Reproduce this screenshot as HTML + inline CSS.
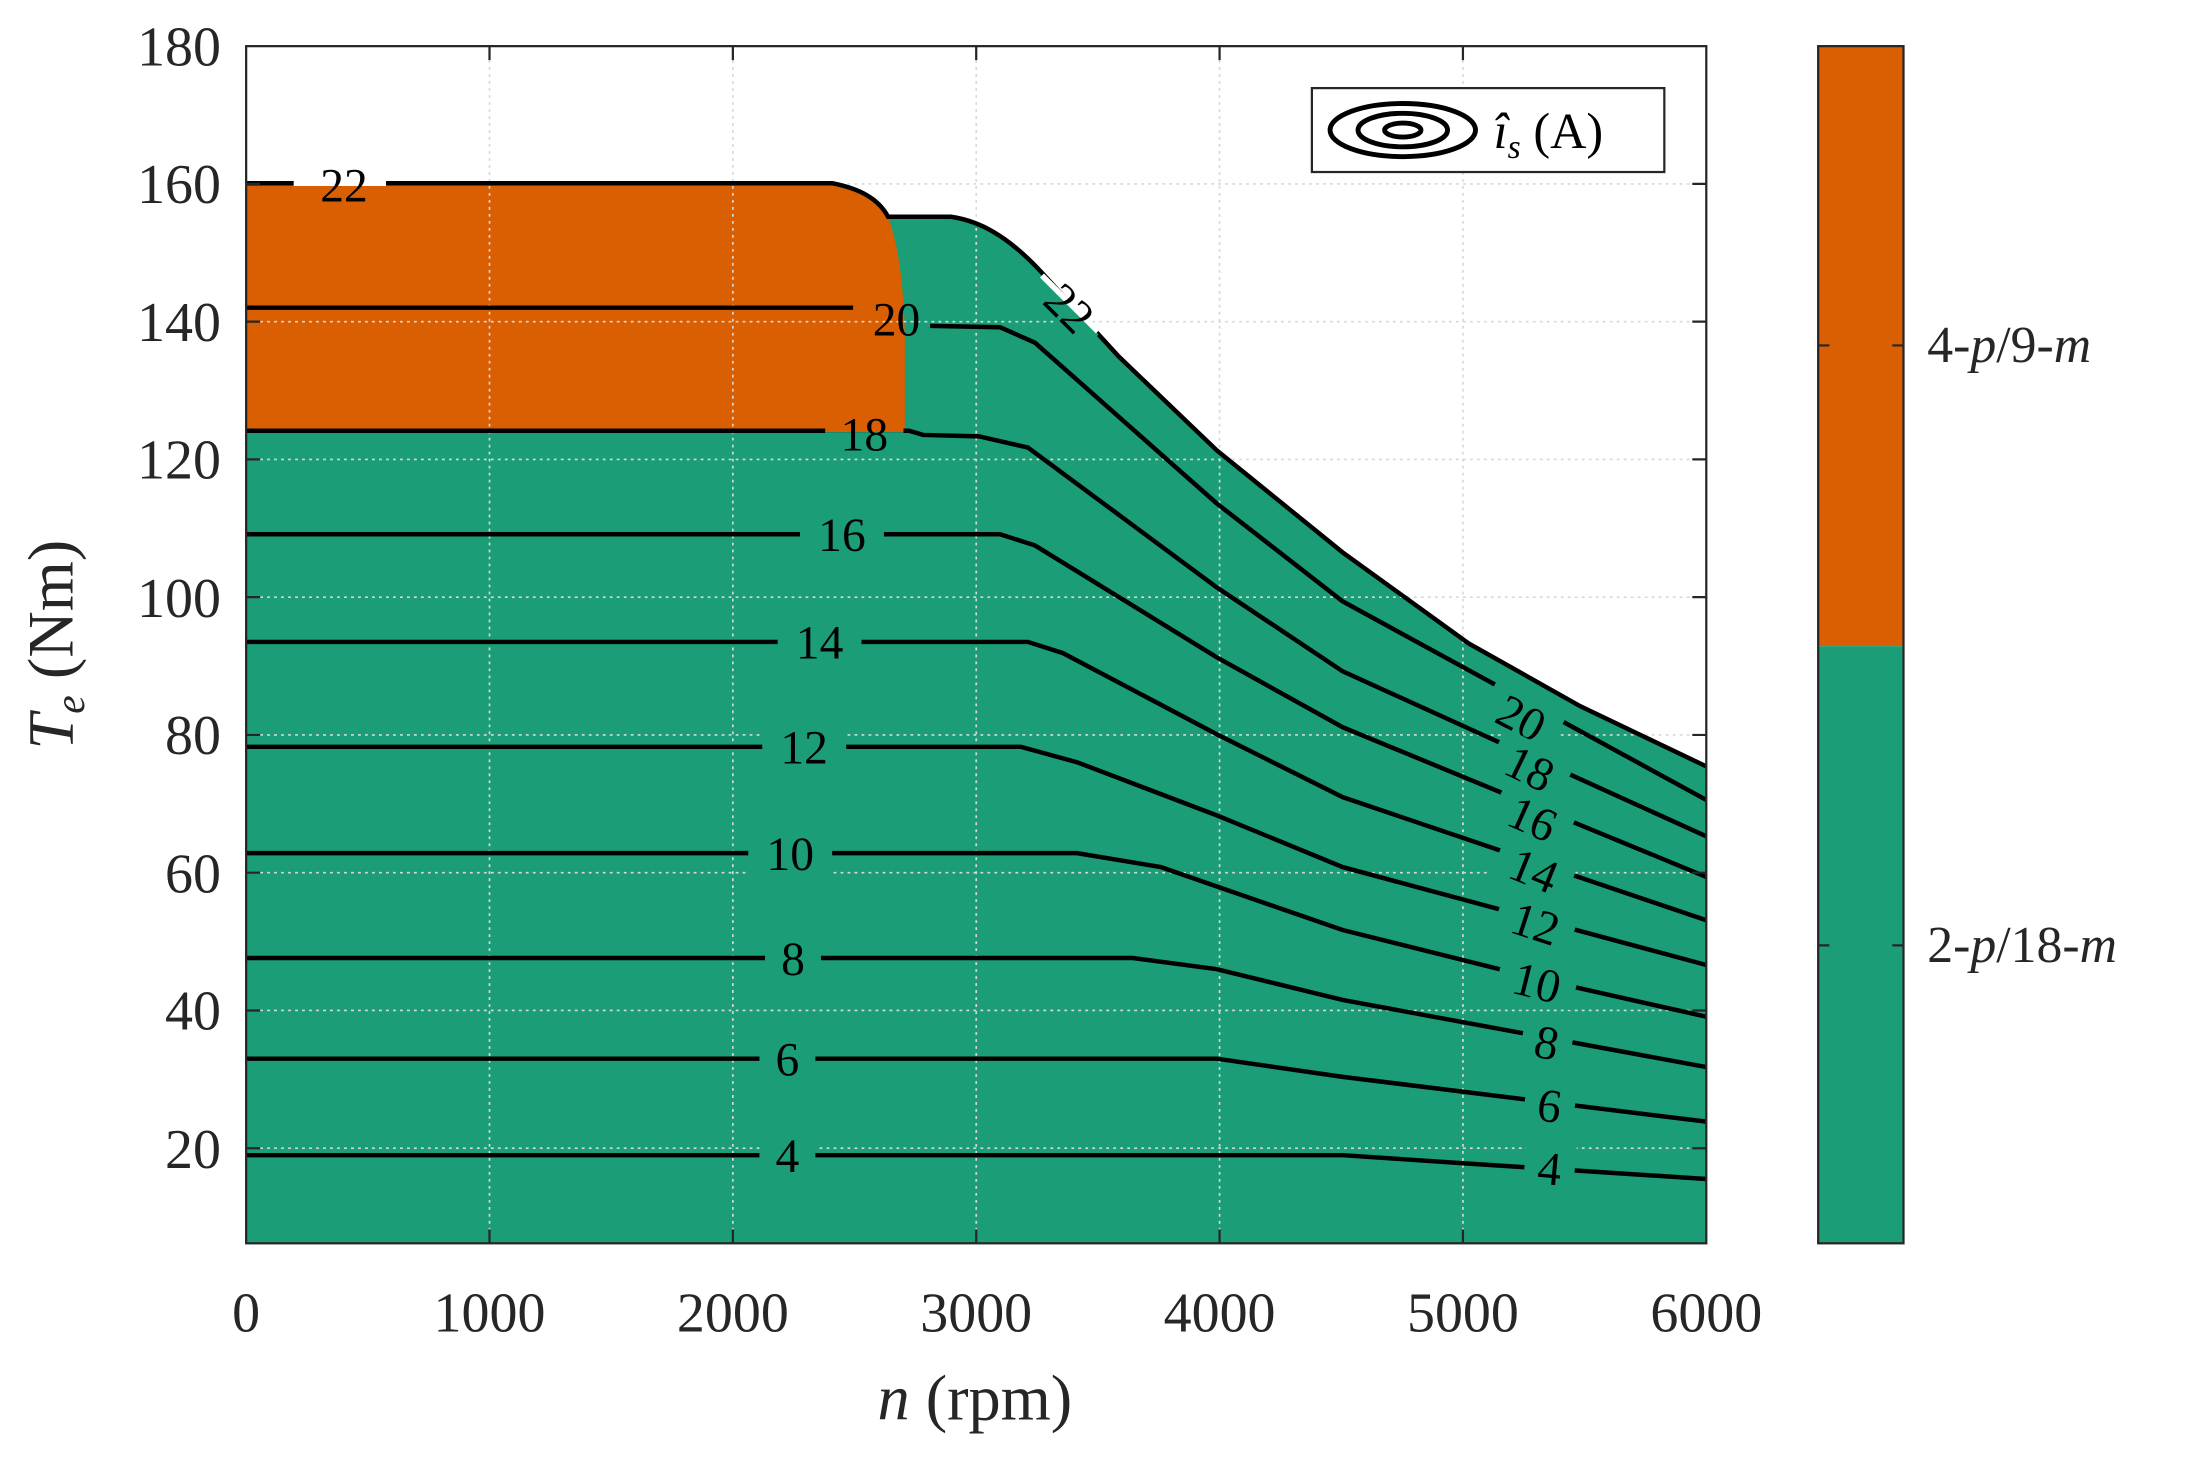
<!DOCTYPE html>
<html><head><meta charset="utf-8"><style>html,body{margin:0;padding:0;background:#fff}svg{display:block}</style></head><body>
<svg width="2193" height="1457" viewBox="0 0 1568 1041.8" preserveAspectRatio="none" xmlns="http://www.w3.org/2000/svg" font-family="Liberation Serif, serif">
<defs>
<clipPath id="env"><path d="M176,889 L176,131 L595,131 C615,135 628,142 635,155 L680,155 C700,158 720,168 745,195 L800,255 L870,322 L960,395 L1050,460 L1130,505 L1220,548 L1220,889 Z"/></clipPath>
<clipPath id="org"><path d="M176,131 L595,131 C615,135 628,142 635,155 C642,175 646,200 647,240 L647,309 L176,309 Z"/></clipPath>
</defs>
<rect width="1568" height="1042" fill="#fff"/>
<path d="M176,889 L176,131 L595,131 C615,135 628,142 635,155 L680,155 C700,158 720,168 745,195 L800,255 L870,322 L960,395 L1050,460 L1130,505 L1220,548 L1220,889 Z" fill="#1b9e77"/>
<path d="M176,131 L595,131 C615,135 628,142 635,155 C642,175 646,200 647,240 L647,309 L176,309 Z" fill="#d95f02"/>
<g stroke="#d8d8d8" stroke-width="1.2" stroke-dasharray="2,3">
<line x1="350" y1="33" x2="350" y2="889"/><line x1="524" y1="33" x2="524" y2="889"/><line x1="698" y1="33" x2="698" y2="889"/><line x1="872" y1="33" x2="872" y2="889"/><line x1="1046" y1="33" x2="1046" y2="889"/>
<line x1="176" y1="131.5" x2="1220" y2="131.5"/><line x1="176" y1="230" x2="1220" y2="230"/><line x1="176" y1="328.5" x2="1220" y2="328.5"/><line x1="176" y1="427" x2="1220" y2="427"/><line x1="176" y1="525.5" x2="1220" y2="525.5"/><line x1="176" y1="624" x2="1220" y2="624"/><line x1="176" y1="722.5" x2="1220" y2="722.5"/><line x1="176" y1="821" x2="1220" y2="821"/>
</g>
<g fill="none" stroke="#000" stroke-width="3.2">
<path d="M176,131 L595,131 C615,135 628,142 635,155 L680,155 C700,158 720,168 745,195 L800,255 L870,322 L960,395 L1050,460 L1130,505 L1220,548"/>
<path d="M176,826 L960,826 L1050,832 L1220,843"/>
<path d="M176,757 L870,757 L960,770 L1220,802"/>
<path d="M176,685 L810,685 L870,693 L960,715 L1220,763"/>
<path d="M176,610 L770,610 L830,620 L960,665 L1100,700 L1220,727"/>
<path d="M176,534 L730,534 L770,545 L870,583 L960,620 L1220,690"/>
<path d="M176,459 L735,459 L760,467 L870,525 L960,570 L1220,658"/>
<path d="M176,382 L715,382 L740,390 L870,470 L960,520 L1220,627"/>
<path d="M176,308 L650,308 L660,311 L700,312 L735,320 L870,420 L960,480 L1220,598"/>
<path d="M176,220 L610,220 M665,233 L715,234 L740,245 L870,360 L960,430 L1220,572"/>
</g>
<g font-size="34" text-anchor="middle">
<rect x="543" y="810" width="40" height="32" fill="#1b9e77"/><text x="563" y="838">4</text>
<rect x="543" y="741" width="40" height="32" fill="#1b9e77"/><text x="563" y="769">6</text>
<rect x="547" y="669" width="40" height="32" fill="#1b9e77"/><text x="567" y="697">8</text>
<rect x="535" y="594" width="60" height="32" fill="#1b9e77"/><text x="565" y="622">10</text>
<rect x="545" y="518" width="60" height="32" fill="#1b9e77"/><text x="575" y="546">12</text>
<rect x="556" y="443" width="60" height="32" fill="#1b9e77"/><text x="586" y="471">14</text>
<rect x="572" y="366" width="60" height="32" fill="#1b9e77"/><text x="602" y="394">16</text>
<rect x="590" y="296" width="56" height="30" fill="#d95f02" clip-path="url(#org)"/><rect x="590" y="309" width="56" height="17" fill="#1b9e77" clip-path="url(#env)"/><text x="618" y="322">18</text>
<text x="641" y="240">20</text>
<rect x="210" y="120" width="66" height="22" fill="#d95f02" clip-path="url(#org)"/><line x1="210" y1="131" x2="276" y2="131" stroke="#fff" stroke-width="4"/><text x="246" y="144">22</text>
<g clip-path="url(#env)"><g transform="translate(765,220) rotate(45)"><rect x="-28" y="-18" width="56" height="32" fill="#1b9e77"/></g></g>
<line x1="745" y1="197" x2="785" y2="237" stroke="#fff" stroke-width="4"/>
<g transform="translate(765,220) rotate(45)"><text x="0" y="12">22</text></g>
<g transform="translate(1088,513) rotate(28)"><rect x="-28" y="-18" width="56" height="32" fill="#1b9e77"/><text x="0" y="12">20</text></g>
<g transform="translate(1094,549) rotate(26)"><rect x="-28" y="-18" width="56" height="32" fill="#1b9e77"/><text x="0" y="12">18</text></g>
<g transform="translate(1096,585) rotate(24)"><rect x="-28" y="-18" width="56" height="32" fill="#1b9e77"/><text x="0" y="12">16</text></g>
<g transform="translate(1097,622) rotate(22)"><rect x="-28" y="-18" width="56" height="32" fill="#1b9e77"/><text x="0" y="12">14</text></g>
<g transform="translate(1098,660) rotate(18)"><rect x="-28" y="-18" width="56" height="32" fill="#1b9e77"/><text x="0" y="12">12</text></g>
<g transform="translate(1099,702) rotate(14)"><rect x="-28" y="-18" width="56" height="32" fill="#1b9e77"/><text x="0" y="12">10</text></g>
<g transform="translate(1106,745) rotate(11)"><rect x="-18" y="-18" width="36" height="32" fill="#1b9e77"/><text x="0" y="12">8</text></g>
<g transform="translate(1108,790) rotate(9)"><rect x="-18" y="-18" width="36" height="32" fill="#1b9e77"/><text x="0" y="12">6</text></g>
<g transform="translate(1108,835) rotate(5)"><rect x="-18" y="-18" width="36" height="32" fill="#1b9e77"/><text x="0" y="12">4</text></g>
</g>
<rect x="176" y="33" width="1044" height="856" fill="none" stroke="#262626" stroke-width="1.6"/>
<g stroke="#262626" stroke-width="1.6">
<path d="M350,889v-10M524,889v-10M698,889v-10M872,889v-10M1046,889v-10M350,33v10M524,33v10M698,33v10M872,33v10M1046,33v10"/>
<path d="M176,131.5h10M176,230h10M176,328.5h10M176,427h10M176,525.5h10M176,624h10M176,722.5h10M176,821h10M1220,131.5h-10M1220,230h-10M1220,328.5h-10M1220,427h-10M1220,525.5h-10M1220,624h-10M1220,722.5h-10M1220,821h-10"/>
</g>
<g font-size="40" fill="#262626" text-anchor="middle">
<text x="176" y="952">0</text><text x="350" y="952">1000</text><text x="524" y="952">2000</text><text x="698" y="952">3000</text><text x="872" y="952">4000</text><text x="1046" y="952">5000</text><text x="1220" y="952">6000</text>
</g>
<g font-size="40" fill="#262626" text-anchor="end">
<text x="158" y="47">180</text><text x="158" y="145">160</text><text x="158" y="244">140</text><text x="158" y="342">120</text><text x="158" y="441">100</text><text x="158" y="539">80</text><text x="158" y="638">60</text><text x="158" y="736">40</text><text x="158" y="835">20</text>
</g>
<text x="697" y="1015" font-size="46" text-anchor="middle" fill="#262626"><tspan font-style="italic">n</tspan> (rpm)</text>
<text transform="translate(52,461) rotate(-90)" font-size="46" text-anchor="middle" fill="#262626"><tspan font-style="italic">T</tspan><tspan font-style="italic" font-size="30" dy="8">e</tspan><tspan dy="-8"> (Nm)</tspan></text>
<rect x="938" y="63" width="252" height="60" fill="#fff" stroke="#262626" stroke-width="1.6"/>
<g fill="none" stroke="#000" stroke-width="3.5"><ellipse cx="1003" cy="93" rx="52" ry="19"/><ellipse cx="1003" cy="93" rx="32" ry="12"/><ellipse cx="1003" cy="93" rx="13" ry="5"/></g>
<text x="1068" y="106" font-size="36" fill="#000"><tspan font-style="italic">î</tspan><tspan font-style="italic" font-size="24" dy="7">s</tspan><tspan dy="-7"> (A)</tspan></text>
<rect x="1300" y="33" width="61" height="429" fill="#d95f02"/>
<rect x="1300" y="462" width="61" height="427" fill="#1b9e77"/>
<rect x="1300" y="33" width="61" height="856" fill="none" stroke="#262626" stroke-width="1.6"/>
<path d="M1361,247h-8M1361,676h-8M1300,247h8M1300,676h8" stroke="#262626" stroke-width="1.6"/>
<g font-size="37" fill="#262626">
<text x="1378" y="259">4-<tspan font-style="italic">p</tspan>/9-<tspan font-style="italic">m</tspan></text>
<text x="1378" y="688">2-<tspan font-style="italic">p</tspan>/18-<tspan font-style="italic">m</tspan></text>
</g>
</svg>
</body></html>
